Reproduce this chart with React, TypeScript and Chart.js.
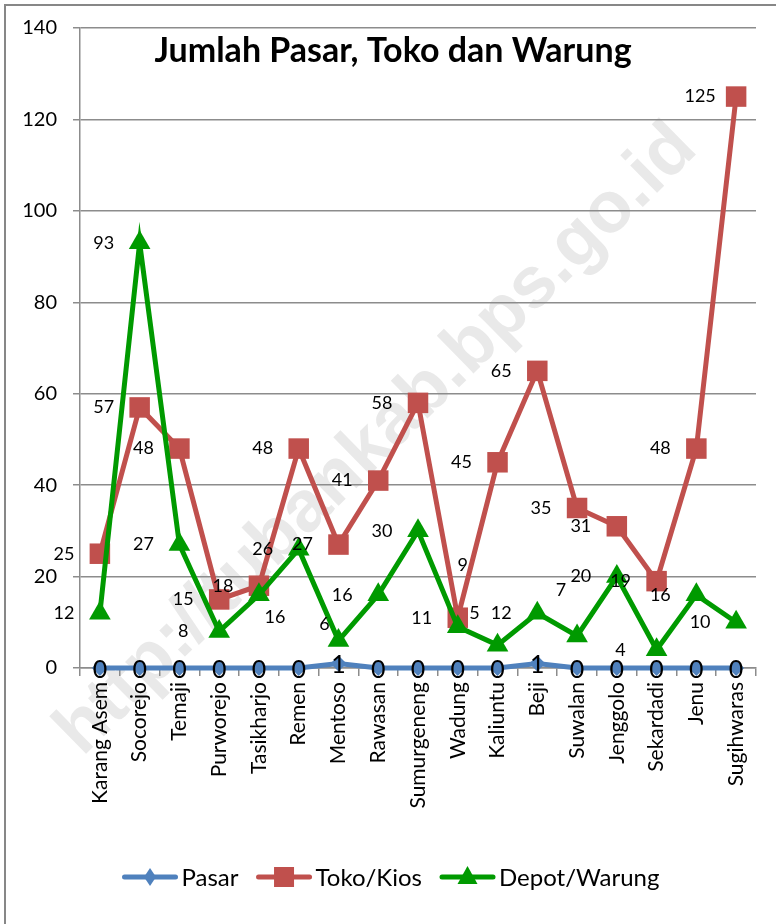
import React, { useEffect, useRef } from 'react';
import { Chart, registerables } from 'chart.js';

Chart.register(...registerables);

const categories = [
  'Karang Asem', 'Socorejo', 'Temaji', 'Purworejo', 'Tasikharjo', 'Remen',
  'Mentoso', 'Rawasan', 'Sumurgeneng', 'Wadung', 'Kaliuntu', 'Beji',
  'Suwalan', 'Jenggolo', 'Sekardadi', 'Jenu', 'Sugihwaras',
];
const pasar = [0, 0, 0, 0, 0, 0, 1, 0, 0, 0, 0, 1, 0, 0, 0, 0, 0];
const toko = [25, 57, 48, 15, 18, 48, 27, 41, 58, 11, 45, 65, 35, 31, 19, 48, 125];
const depot = [12, 93, 27, 8, 16, 26, 6, 16, 30, 9, 5, 12, 7, 20, 4, 16, 10];
const seriesNames = ['Pasar', 'Toko/Kios', 'Depot/Warung'];
const chartTitle = 'Jumlah Pasar, Toko dan Warung';
const watermarkText = 'http://tubankab.bps.go.id';

const FONT = 'Lato, "Open Sans", sans-serif';
const COLORS = ['#4f81bd', '#c0504d', '#009a00'];
const STYLES = ['rectRot', 'rect', 'triangle'];
const RADII = [8, 14.5, 12.5];
const GRID = '#8c8c8c';

// label shifts (px) for the few Depot/Warung labels not placed left of the point
const depotShift: Record<number, [number, number]> = {
  4: [16, 22], 6: [-14, -16], 9: [5, -62], 10: [-23, -32], 12: [-16, -46],
};

const framePlugin = {
  id: 'frame',
  beforeDraw(chart: any) {
    const ctx = chart.ctx;
    ctx.save();
    ctx.fillStyle = '#ffffff';
    ctx.fillRect(0, 0, chart.width, chart.height);
    ctx.strokeStyle = '#878787';
    ctx.lineWidth = 2;
    ctx.strokeRect(5, 5, chart.width + 20, chart.height + 20);
    // watermark behind everything else
    ctx.translate(377, 440);
    ctx.rotate((-44.5 * Math.PI) / 180);
    let size = 60;
    ctx.font = `bold ${size}px "Liberation Sans", Arial, sans-serif`;
    const w = ctx.measureText(watermarkText).width;
    size = (size * 865) / w;
    ctx.font = `bold ${size}px "Liberation Sans", Arial, sans-serif`;
    ctx.fillStyle = '#e9e9e9';
    ctx.textAlign = 'center';
    ctx.textBaseline = 'middle';
    ctx.fillText(watermarkText, 0, 0);
    ctx.restore();
  },
};

const labelPlugin = {
  id: 'valueLabels',
  afterDatasetsDraw(chart: any) {
    const ctx = chart.ctx;
    ctx.save();
    ctx.fillStyle = '#000';
    ctx.textAlign = 'center';
    ctx.textBaseline = 'middle';
    chart.data.datasets.forEach((ds: any, di: number) => {
      const meta = chart.getDatasetMeta(di);
      meta.data.forEach((pt: any, i: number) => {
        const v = ds.data[i];
        let dx = -36;
        let dy = 0;
        if (di === 0) {
          dx = 0;
          dy = 2;
          ctx.font = `25px ${FONT}`;
        } else {
          ctx.font = `18px ${FONT}`;
          if (di === 2 && depotShift[i]) {
            [dx, dy] = depotShift[i];
          }
        }
        ctx.fillText(String(v), pt.x + dx, pt.y + dy);
      });
    });
    ctx.restore();
  },
};

const titlePlugin = {
  id: 'overlayTitle',
  afterDraw(chart: any) {
    const ctx = chart.ctx;
    ctx.save();
    ctx.font = `bold 34px ${FONT}`;
    ctx.fillStyle = '#000';
    ctx.textAlign = 'center';
    ctx.textBaseline = 'alphabetic';
    ctx.fillText(chartTitle, 393, 62);
    ctx.restore();
  },
};

const legendPlugin = {
  id: 'lineLegend',
  afterDraw(chart: any) {
    const ctx = chart.ctx;
    ctx.save();
    ctx.font = `24px ${FONT}`;
    const lineLen = 55;
    const gapText = 4;
    const gapItem = 18;
    const widths = seriesNames.map((n) => ctx.measureText(n).width);
    const total = widths.reduce((a, b) => a + b, 0) + seriesNames.length * (lineLen + gapText) + gapItem * (seriesNames.length - 1);
    let x = 391 - total / 2;
    const y = 877;
    seriesNames.forEach((name, i) => {
      ctx.strokeStyle = COLORS[i];
      ctx.lineWidth = 5;
      ctx.lineCap = 'round';
      ctx.beginPath();
      ctx.moveTo(x + 2, y);
      ctx.lineTo(x + lineLen - 2, y);
      ctx.stroke();
      const cx = x + lineLen / 2;
      ctx.fillStyle = COLORS[i];
      ctx.beginPath();
      if (i === 0) {
        ctx.moveTo(cx, y - 9);
        ctx.lineTo(cx + 6, y);
        ctx.lineTo(cx, y + 9);
        ctx.lineTo(cx - 6, y);
        ctx.closePath();
      } else if (i === 1) {
        ctx.rect(cx - 10, y - 10, 20, 20);
      } else {
        ctx.moveTo(cx, y - 11);
        ctx.lineTo(cx + 10, y + 7);
        ctx.lineTo(cx - 10, y + 7);
        ctx.closePath();
      }
      ctx.fill();
      ctx.fillStyle = '#000';
      ctx.textAlign = 'left';
      ctx.textBaseline = 'middle';
      ctx.fillText(name, x + lineLen + gapText, y + 1);
      x += lineLen + gapText + widths[i] + gapItem;
    });
    ctx.restore();
  },
};

export default function App() {
  const ref = useRef<HTMLCanvasElement | null>(null);

  useEffect(() => {
    if (!ref.current) return;
    const seriesData = [pasar, toko, depot];
    const chart = new Chart(ref.current, {
      type: 'line',
      data: {
        labels: categories,
        datasets: seriesData.map((d, i) => ({
          label: seriesNames[i],
          data: d,
          borderColor: COLORS[i],
          backgroundColor: COLORS[i],
          borderWidth: 5,
          pointStyle: STYLES[i] as any,
          pointRadius: RADII[i],
          pointBorderWidth: 0,
          pointBackgroundColor: COLORS[i],
          tension: 0,
          clip: false as any,
          order: 2 - i,
        })),
      },
      options: {
        responsive: false,
        animation: false,
        devicePixelRatio: 1,
        layout: { padding: { top: 28, right: 20, left: 0, bottom: 0 } },
        plugins: {
          legend: { display: false },
          title: { display: false },
          tooltip: { enabled: false },
        },
        scales: {
          x: {
            type: 'category',
            offset: true,
            afterFit: (s: any) => { s.height = 256; },
            grid: {
              offset: true,
              drawOnChartArea: false,
              drawTicks: true,
              tickLength: 8,
              color: GRID,
              lineWidth: 1.5,
            },
            border: { color: GRID, width: 1.5 },
            ticks: {
              autoSkip: false,
              minRotation: 90,
              maxRotation: 90,
              padding: 6,
              color: '#000',
              font: { family: FONT, size: 21 },
            },
          },
          y: {
            min: 0,
            max: 140,
            afterFit: (s: any) => { s.width = 80; },
            grid: {
              color: GRID,
              lineWidth: 1.5,
              tickLength: 7,
            },
            border: { color: GRID, width: 1.5 },
            ticks: {
              stepSize: 20,
              padding: 16,
              color: '#000',
              font: { family: FONT, size: 20 },
            },
          },
        },
      },
      plugins: [framePlugin, labelPlugin, titlePlugin, legendPlugin],
    });
    return () => chart.destroy();
  }, []);

  return (
    <div style={{ position: 'absolute', left: 0, top: 0, width: 776, height: 924 }}>
      <canvas ref={ref} width={776} height={924} style={{ display: 'block', width: 776, height: 924 }} />
    </div>
  );
}
